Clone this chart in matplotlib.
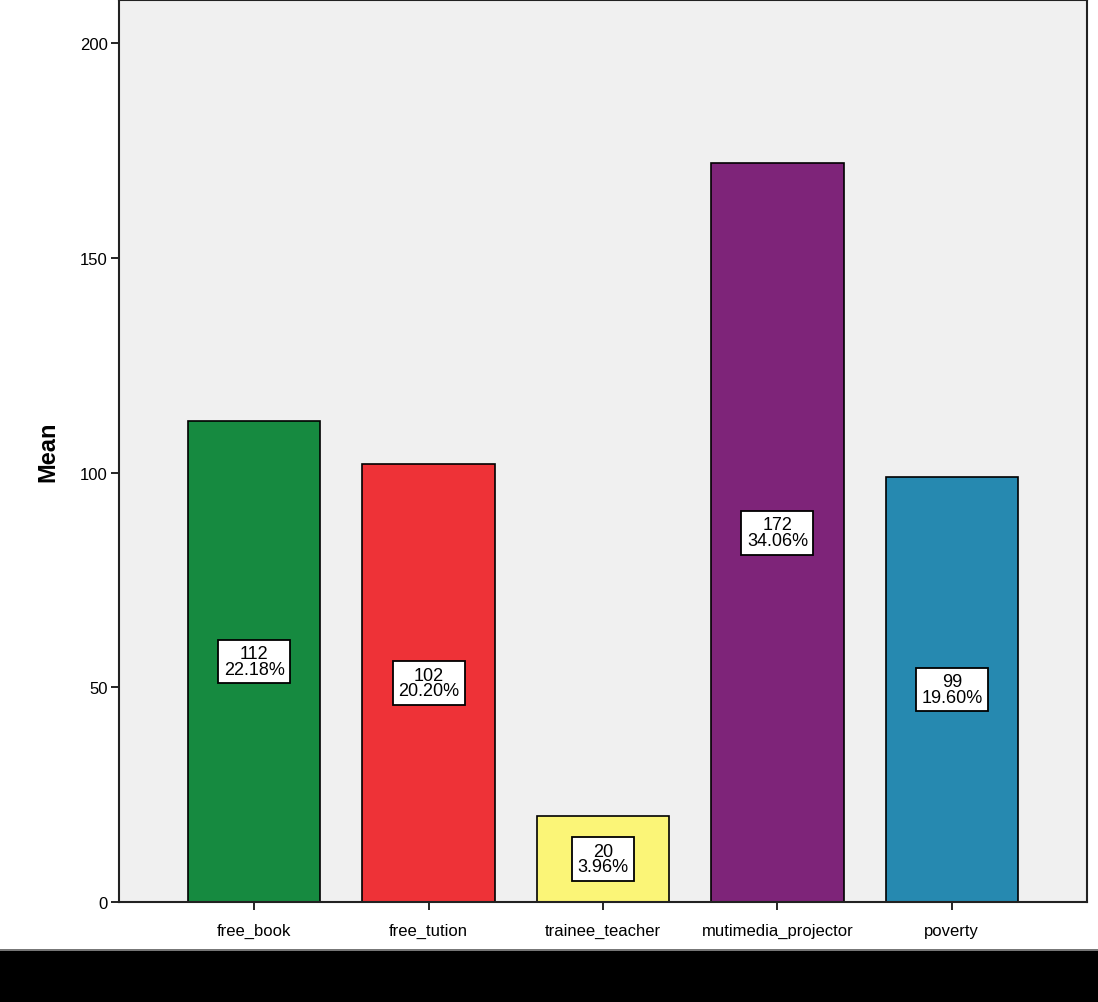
import matplotlib
matplotlib.use("Agg")
from matplotlib import pyplot as plt
from matplotlib.patches import Rectangle

categories = ["free_book", "free_tution", "trainee_teacher", "mutimedia_projector", "poverty"]
means = [112, 102, 20, 172, 99]
colors = ["#168a40", "#ee3237", "#fbf577", "#7e2479", "#2689b0"]
yticks = [0, 50, 100, 150, 200]

plt.rcParams['font.family'] = ['Liberation Sans', 'DejaVu Sans']

fig = plt.figure(figsize=(10.98, 10.03), dpi=100, facecolor="white")
ax = fig.add_axes([0.1084, 0.0997, 0.8816, 0.899], facecolor="#f0f0f0")

x = list(range(len(categories)))
ax.bar(x, means, width=0.76, color=colors, edgecolor="black", linewidth=1.2, zorder=2)

total = sum(means)
for xi, v in zip(x, means):
    pct = v / total * 100
    ax.text(xi, v / 2, "%d\n%.2f%%" % (v, pct), ha="center", va="center",
            fontsize=13, linespacing=0.9, zorder=3,
            bbox=dict(boxstyle="square,pad=0.3", fc="white", ec="black", lw=1.3))

ax.set_xlim(-0.775, 4.775)
ax.set_ylim(0, 210)
ax.set_yticks(yticks)
ax.set_xticks(x)
ax.set_xticklabels(categories, fontsize=12)
ax.tick_params(axis="y", labelsize=12, length=6, width=1.2, direction="out", pad=2)
ax.tick_params(axis="x", length=6, width=1.2, direction="out", pad=9)
ax.set_ylabel("Mean", fontsize=17, fontweight="bold", labelpad=15)

for s in ax.spines.values():
    s.set_linewidth(1.5)
    s.set_color("#222222")

# black band along the bottom edge
fig.patches.append(Rectangle((0, 0), 1, 51 / 1003, transform=fig.transFigure,
                             facecolor="black", edgecolor="none"))
fig.patches.append(Rectangle((0, 51 / 1003), 1, 2 / 1003, transform=fig.transFigure,
                             facecolor="#777777", edgecolor="none"))

fig.savefig("out.png", dpi=100)
